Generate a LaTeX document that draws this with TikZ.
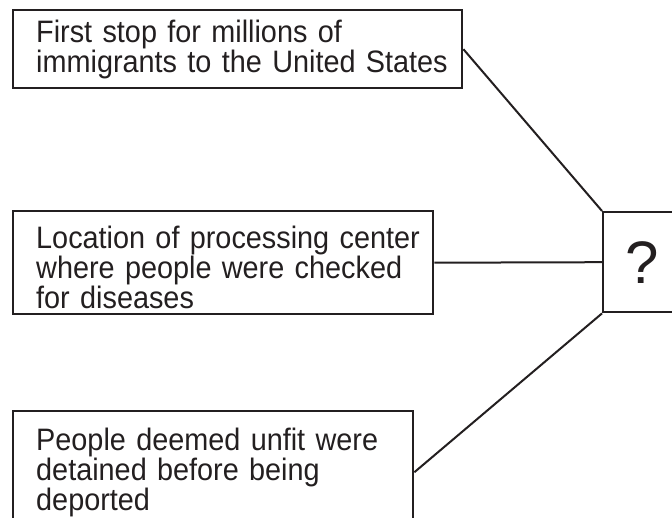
\documentclass[tikz,border=0pt]{standalone}
\usepackage{fontspec}
\setmainfont{Liberation Sans}[FakeStretch=0.93]
\newfontfamily\qfont{Liberation Sans}
\definecolor{ink}{HTML}{231F20}
\begin{document}
\begin{tikzpicture}[x=1pt,y=-1pt,
  box/.style={draw=ink, line width=2.4pt, anchor=north west, inner xsep=23pt,
    inner ysep=0pt, align=left, text=ink, font=\fontsize{31}{30}\selectfont},
  qbox/.style={draw=ink, line width=2.4pt, anchor=north west, inner sep=0pt,
    text=ink, font=\qfont\fontsize{60}{60}\selectfont},
  link/.style={draw=ink, line width=2pt}]
\useasboundingbox (0,0) rectangle (672,518);
\clip (0,0) rectangle (672,518);
\node[box, minimum width=449pt, minimum height=78pt, text width=403pt] (b1) at (12,9)
  {\mbox{First stop for millions of}\\\mbox{immigrants to the United States}};
\node[box, minimum width=420pt, minimum height=103pt, text width=374pt] (b2) at (12,210)
  {\mbox{\rule{0pt}{32pt}Location of processing center}\\\mbox{where people were checked}\\\mbox{for diseases}};
\node[box, minimum width=400pt, minimum height=122pt, text width=354pt] (b3) at (12,410)
  {\mbox{People deemed unfit were}\\\mbox{detained before being}\\\mbox{deported}};
\node[qbox, minimum width=78pt, minimum height=100pt] (q) at (602,211) {?};
\draw[link] (b1.east) -- (q.north west);
\draw[link] (b2.east) -- (q.west);
\draw[link] (b3.east) -- (q.south west);
\end{tikzpicture}
\end{document}
